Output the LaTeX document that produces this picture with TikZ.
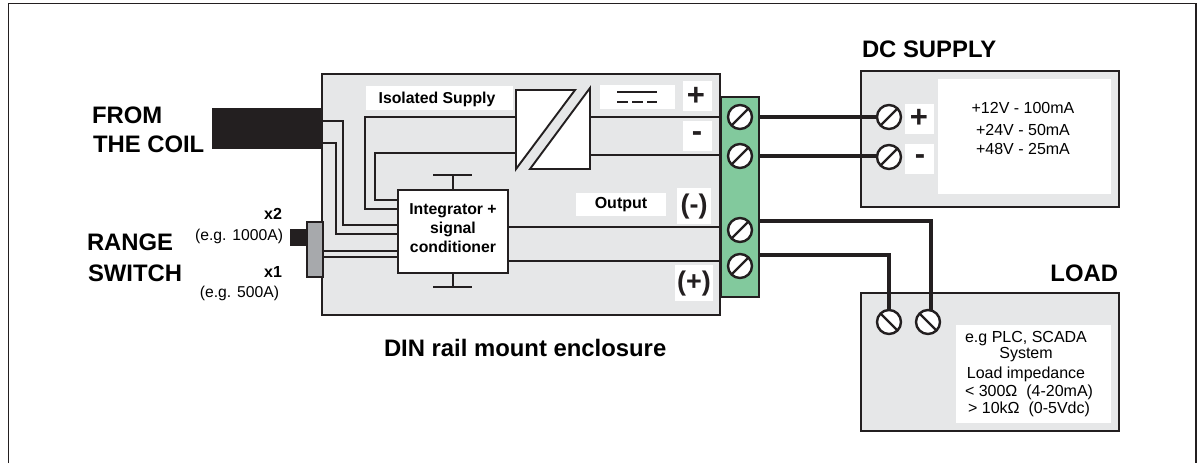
\documentclass[tikz,border=0pt]{standalone}
\usepackage{fontspec}
\usetikzlibrary{calc}
\setmainfont{Liberation Sans}
\definecolor{ink}{HTML}{231F20}
\definecolor{encl}{HTML}{E6E7E8}
\definecolor{term}{HTML}{82C99D}
\definecolor{sw}{HTML}{A7A9AC}
\newcommand{\fs}[1]{\fontsize{#1}{#1}\selectfont}
\tikzset{
  x=1pt,y=-1pt,
  panel/.style={draw=ink,line width=2pt,fill=encl},
  patch/.style={fill=white,draw=none},
  wire/.style={draw=ink,line width=1.9pt},
  fieldwire/.style={draw=ink,line width=3.4pt},
  screw/.style={circle,draw=ink,fill=white,line width=2.4pt,minimum size=24pt,inner sep=0pt,outer sep=0pt},
  txt/.style={inner sep=0pt,outer sep=0pt,text=black,font=\fs{16}},
  head/.style={inner sep=0pt,outer sep=0pt,text=black,font=\fs{23.85}\bfseries},
  lab/.style={inner sep=0pt,outer sep=0pt,text=black,font=\fs{15.8}\bfseries},
  sign/.style={inner sep=0pt,outer sep=0pt,text=ink,font=\fs{27}\bfseries},
  bigsign/.style={inner sep=0pt,outer sep=0pt,text=ink,font=\fs{31}\bfseries},
}
\begin{document}
\begin{tikzpicture}
\useasboundingbox (0,0) rectangle (1201,463);
\coordinate (fa) at (8.5,463); \coordinate (fb) at (8.5,3.5); \coordinate (fc) at (1196,3.5); \coordinate (fd) at (1196,463);
\draw[ink,line width=1.2pt] (fa) -- (fb) -- (fc) -- (fd);

% enclosure
\node[panel,inner sep=0pt,outer sep=0pt,anchor=north west,minimum width=398pt,minimum height=241pt] (encl) at (322,74) {};
% white patches inside the enclosure
\node[patch,inner sep=0pt,anchor=north west,minimum width=147pt,minimum height=24pt] (isop) at (366,86) {};
\node[patch,inner sep=0pt,anchor=north west,minimum width=75pt,minimum height=24pt] (dcp) at (600,85) {};
\node[patch,inner sep=0pt,anchor=north west,minimum width=29pt,minimum height=30pt] (pp) at (683,81) {};
\node[patch,inner sep=0pt,anchor=north west,minimum width=29pt,minimum height=30pt] (mp) at (683,121) {};
\node[patch,inner sep=0pt,anchor=north west,minimum width=90pt,minimum height=23pt] (outp) at (576,193) {};
\node[patch,inner sep=0pt,anchor=north west,minimum width=34pt,minimum height=36pt] (onp) at (677,188) {};
\node[patch,inner sep=0pt,anchor=north west,minimum width=38pt,minimum height=36pt] (opp) at (675,265) {};

% terminal block
\node[draw=ink,line width=1.8pt,fill=term,inner sep=0pt,outer sep=0pt,anchor=north west,minimum width=38pt,minimum height=200pt] (tb) at (721,97) {};

% integrator
\node[draw=ink,line width=1.3pt,fill=white,inner sep=0pt,outer sep=0pt,anchor=north west,minimum width=110pt,minimum height=83pt,align=center] (integ) at (398,190) {};
\node[lab,anchor=base] (intega) at (453,214) {Integrator +};
\node[lab,anchor=base] (integb) at (453,233) {signal};
\node[lab,anchor=base] (integc) at (453,252) {conditioner};

% coil cable and range switch
\node[fill=ink,inner sep=0pt,outer sep=0pt,anchor=north west,minimum width=111pt,minimum height=41pt] (cable) at (212,108) {};
\node[fill=ink,inner sep=0pt,outer sep=0pt,anchor=north west,minimum width=18pt,minimum height=17pt] (knob) at (290,229) {};

% named wire ends
\coordinate (ca) at (323,121); \coordinate (cb) at (323,143);
\coordinate (ia) at (398,225); \coordinate (ib) at (398,234);
\coordinate (sa) at (323,251); \coordinate (sb) at (323,257);
\coordinate (ic) at (398,251); \coordinate (id) at (398,257);
\coordinate (ie) at (398,200); \coordinate (if) at (398,209);
\coordinate (cl) at (516,117); \coordinate (cm) at (516,153);
\coordinate (cr) at (590,117); \coordinate (cs) at (590,155);
\coordinate (ta) at (721,117); \coordinate (tb1) at (721,155);
\coordinate (oa) at (508,227); \coordinate (ob) at (508,261);
\coordinate (tc) at (721,227); \coordinate (td) at (721,261);

\draw[wire,line join=miter] (ca) -- (343,121) -- (343,225) -- (ia);
\draw[wire] (cb) -- (336,143) -- (336,234) -- (ib);
\draw[wire] (sa) -- (ic);
\draw[wire] (sb) -- (id);
\draw[wire] (cl) -- (365,117) -- (365,209) -- (if);
\draw[wire] (cm) -- (375,153) -- (375,200) -- (ie);
\draw[wire] (cr) -- (ta);
\draw[wire] (cs) -- (tb1);
\draw[wire,line width=1.5pt] (oa) -- (tc);
\draw[wire,line width=1.5pt] (ob) -- (td);

% switch body
\node[draw=ink,line width=2pt,fill=sw,inner sep=0pt,outer sep=0pt,anchor=north west,minimum width=16pt,minimum height=55pt] (switch) at (307,222) {};

% converter symbol
\draw[ink,line width=1.9pt,fill=white,line join=miter] (516,90) -- (575,90) -- (516,169) -- cycle;
\draw[ink,line width=1.9pt,fill=white,line join=miter] (590,88) -- (590,169) -- (530,169) -- cycle;

% T marks
\coordinate (tt) at (453,175); \coordinate (tl) at (433,175); \coordinate (tr) at (472,175);
\coordinate (bt) at (453,287); \coordinate (bl) at (433,287); \coordinate (br) at (472,287);
\draw[wire] (integ.north -| tt) -- (tt); \draw[wire] (tl) -- (tr);
\draw[wire] (integ.south -| bt) -- (bt); \draw[wire] (bl) -- (br);

% DC symbol
\coordinate (da) at (617,92); \coordinate (db) at (657,92); \coordinate (dc) at (617,102); \coordinate (dd) at (657,102);
\draw[wire] (da) -- (db);
\draw[wire,dash pattern=on 11pt off 4pt] (dc) -- (dd);

% enclosure labels
\node[lab,anchor=base] (iso) at (437,103) {Isolated Supply};
\node[txt,font=\fs{16}\bfseries,anchor=base] (output) at (621,208) {Output};
\node[bigsign] (encp) at (696,96) {+};
\node[bigsign] (encm) at (697,137) {-};
\node[sign] (encn) at (694,207) {(-)};
\node[sign] (encq) at (694,284) {(+)};

% DC supply box
\node[panel,inner sep=0pt,outer sep=0pt,anchor=north west,minimum width=258pt,minimum height=136pt] (dcbox) at (861,71) {};
\node[patch,inner sep=0pt,anchor=north west,minimum width=173pt,minimum height=115pt] (dcw) at (938,79) {};
\node[patch,inner sep=0pt,anchor=north west,minimum width=29pt,minimum height=30pt] (dpp) at (905,104) {};
\node[patch,inner sep=0pt,anchor=north west,minimum width=29pt,minimum height=30pt] (dmp) at (905,144) {};
\node[bigsign] (dcplus) at (919,118) {+};
\node[bigsign] (dcminus) at (920,160) {-};
\node[txt,anchor=base] (va) at (1023,113) {+12V - 100mA};
\node[txt,anchor=base] (vb) at (1023,135) {+24V - 50mA};
\node[txt,anchor=base] (vc) at (1023,154) {+48V - 25mA};
\node[head,anchor=base west] (dctitle) at (862,57) {DC SUPPLY};

% load box
\node[panel,inner sep=0pt,outer sep=0pt,anchor=north west,minimum width=258pt,minimum height=138pt] (loadbox) at (861,293) {};
\node[patch,inner sep=0pt,anchor=north west,minimum width=155pt,minimum height=98pt] (lw) at (956,325) {};
\node[head,anchor=base east] (loadtitle) at (1118,281) {LOAD};
\node[txt,anchor=base] (la) at (1026,342) {e.g PLC, SCADA};
\node[txt,anchor=base] (lb) at (1026,358) {System};
\node[txt,anchor=base] (lc) at (1026,378) {Load impedance};
\node[txt,anchor=base] (ld) at (1029,396) {< 300Ω\ \ (4-20mA)};
\node[txt,anchor=base] (le) at (1029,413) {> 10kΩ\ \ (0-5Vdc)};

% field wires (behind the screws)
\coordinate (te) at (759,117); \coordinate (tf) at (759,156);
\coordinate (tg) at (759,221); \coordinate (th) at (759,255);
\coordinate (ds1) at (889,117); \coordinate (ds2) at (889,156);
\coordinate (ls1) at (889,322); \coordinate (ls2) at (931,322);
\draw[fieldwire] (te) -- (ds1);
\draw[fieldwire] (tf) -- (ds2);
\draw[fieldwire] (tg) -- (931,221) -- (ls2);
\draw[fieldwire] (th) -- (889,255) -- (ls1);

% screws
\foreach \n/\x/\y/\s in {s1/740/117/1,s2/740/156/1,s3/740/230/1,s4/740/266/1,s5/889/117/1,s6/889/157/1,s7/889/322/-1,s8/928/322/-1}{
  \node[screw] (\n) at (\x,\y) {};
  \draw[ink,line width=2.4pt] ($(\n)+(\s*8.5,-8.5)$) -- ($(\n)+(\s*-8.5,8.5)$);
}

% left labels
\node[head,anchor=base west] (from) at (92,123) {FROM};
\node[head,anchor=base west] (coil) at (93,152) {THE COIL};
\node[head,anchor=base west] (range) at (87,250) {RANGE};
\node[head,anchor=base west] (swt) at (88,281) {SWITCH};
\node[txt,font=\fs{16}\bfseries,anchor=base east] (x2) at (282,219) {x2};
\node[txt,font=\fs{15.7},anchor=base east] (x2e) at (283,240) {(e.g. 1000A)};
\node[txt,font=\fs{16}\bfseries,anchor=base east] (x1) at (282,277) {x1};
\node[txt,font=\fs{15.7},anchor=base east] (x1e) at (279,297) {(e.g. 500A)};
\node[head,anchor=base west] (din) at (384,356) {DIN rail mount enclosure};
\end{tikzpicture}
\end{document}
